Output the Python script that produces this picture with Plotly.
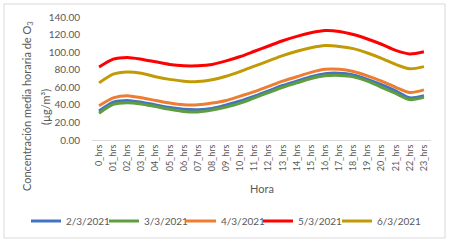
import plotly.graph_objects as go

hours = ["0_hrs"] + [f"{h:02d}_hrs" for h in range(1, 24)]

s_02 = [33, 43, 45, 43, 40, 37, 35, 34.5, 36, 40, 44.5, 50, 56, 62, 67, 72, 75.5, 76, 74, 69, 63, 56, 48, 50.5]
s_03 = [30.5, 40.5, 42.5, 41, 38, 35, 32.5, 32, 34, 37.5, 42, 48, 54, 60, 65, 70, 73, 73.5, 72, 67, 60, 53, 46, 48.5]
s_04 = [39, 48, 50.5, 48, 45, 42, 40, 40, 42, 45, 50, 55, 61, 67, 72, 77, 80.5, 80.5, 78, 73, 67, 60, 54, 57]
s_05 = [83, 92, 94, 92, 89, 86, 84.5, 84.5, 86, 90, 95, 101, 107, 113, 118, 122, 124.5, 123.5, 120, 115, 109, 102, 98, 100.5]
s_06 = [65, 75, 77.5, 76, 72, 69, 67, 66.5, 68.5, 72.5, 78, 84, 90, 96, 101, 105, 107.5, 106.5, 104, 99, 93, 86, 81, 83.5]

series = [
    ("2/3/2021", s_02, "#4472C4"),
    ("3/3/2021", s_03, "#5E9E3E"),
    ("4/3/2021", s_04, "#ED7D31"),
    ("5/3/2021", s_05, "#FF0000"),
    ("6/3/2021", s_06, "#C19A06"),
]
legend_line_starts = [37, 115, 192, 269, 348]

L, R, T, B = 92, 19, 17, 103
W, H = 450, 243
pw, ph = W - L - R, H - T - B

def px(x):
    return (x - L) / pw

def py(y):
    return (H - B - y) / ph

grey = "#595959"
font = "Lato"

fig = go.Figure()
legends = {}
for i, (name, vals, col) in enumerate(series):
    lname = "legend" if i == 0 else f"legend{i + 1}"
    fig.add_trace(go.Scatter(x=hours, y=vals, name=name, mode="lines",
                             legend=lname,
                             line=dict(color=col, width=3, shape="spline", smoothing=0.7)))
    legends[lname] = dict(orientation="h", x=px(legend_line_starts[i] - 11), y=py(221),
                          xanchor="left", yanchor="middle",
                          font=dict(size=10, color=grey), itemwidth=30,
                          bgcolor="rgba(0,0,0,0)", borderwidth=0)

fig.update_layout(
    width=W, height=H,
    margin=dict(l=L, r=R, t=T, b=B, autoexpand=False),
    paper_bgcolor="white", plot_bgcolor="white",
    font=dict(family=font, color=grey, size=10),
    showlegend=True,
    xaxis=dict(type="category", range=[-0.5, 23.5], tickangle=-90,
               showline=True, linecolor="#D9D9D9", linewidth=1, showgrid=False,
               ticks="", tickfont=dict(size=9, color=grey), zeroline=False),
    yaxis=dict(range=[0, 140], dtick=20, tickformat=".2f", showgrid=False, showline=False,
               zeroline=False, ticks="outside", ticklen=9, tickcolor="rgba(0,0,0,0)",
               tickfont=dict(size=10, color=grey)),
    shapes=[dict(type="rect", xref="paper", yref="paper",
                 x0=px(4), x1=px(445), y0=py(238), y1=py(4),
                 line=dict(color="#D9D9D9", width=1), fillcolor="rgba(0,0,0,0)", layer="below")],
    annotations=[
        dict(text="Concentración media horaria de O<sub>3</sub>", xref="paper", yref="paper",
             x=px(27), y=py(106), textangle=-90, showarrow=False,
             xanchor="center", yanchor="middle", font=dict(size=11, color=grey)),
        dict(text="(µg/m³)", xref="paper", yref="paper",
             x=px(45), y=py(107), textangle=-90, showarrow=False,
             xanchor="center", yanchor="middle", font=dict(size=11, color=grey)),
        dict(text="Hora", xref="paper", yref="paper", x=0.5, y=py(188),
             showarrow=False, xanchor="center", yanchor="middle",
             font=dict(size=11, color=grey)),
    ],
    **legends,
)

fig.write_html("out.html", config={"displayModeBar": False},
               post_script="document.body.style.margin='0';document.body.style.overflow='hidden';")
